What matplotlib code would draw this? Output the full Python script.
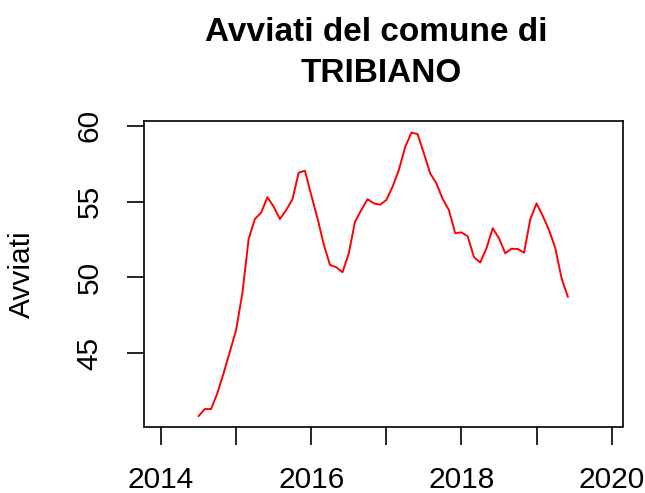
import numpy as np
import matplotlib
matplotlib.use("Agg")
import matplotlib.pyplot as plt

plt.rcParams['font.family'] = ['Liberation Sans', 'DejaVu Sans']

# monthly values, July 2014 .. June 2019
start_year = 2014.5
avviati = [40.86, 41.32, 41.32, 42.36, 43.68, 45.10, 46.53, 48.95, 52.53, 53.85,
           54.27, 55.28, 54.66, 53.85, 54.44, 55.15, 56.90, 57.03, 55.43, 53.90,
           52.18, 50.82, 50.67, 50.34, 51.59, 53.67, 54.44, 55.15, 54.88, 54.79,
           55.10, 55.98, 57.08, 58.58, 59.54, 59.45, 58.18, 56.86, 56.20, 55.17,
           54.44, 52.91, 52.97, 52.71, 51.34, 50.98, 51.92, 53.24, 52.58, 51.59,
           51.89, 51.87, 51.63, 53.83, 54.88, 54.05, 53.12, 51.92, 49.94, 48.73]
x_ticks = [2014, 2015, 2016, 2017, 2018, 2019, 2020]
x_labels = ['2014', '', '2016', '', '2018', '', '2020']
y_ticks = [45, 50, 55, 60]

t = start_year + np.arange(len(avviati)) / 12

fig = plt.figure(figsize=(6.45, 4.93), dpi=100)
W, H = 645, 493
ax = fig.add_axes([143.5 / W, 1 - 426.5 / H, (623 - 143.5) / W, (426.5 - 121) / H])

ax.plot(t, avviati, color='red', lw=1.4)
ax.set_xlim(2013.767, 2020.151)
ax.set_ylim(40.17, 60.31)

ax.set_xticks(x_ticks)
ax.set_xticklabels(x_labels)
ax.set_yticks(y_ticks)
ax.set_yticklabels([str(v) for v in y_ticks], rotation=90, va='center')

ax.tick_params(axis='both', direction='out', length=12.6, width=1.2,
               labelsize=21.5, color='black')
ax.tick_params(axis='x', pad=16)
ax.tick_params(axis='y', pad=16)
for s in ax.spines.values():
    s.set_linewidth(1.2)

fig.text(21.7 / W, 1 - 274 / H, 'Avviati', rotation=90, va='center', ha='center',
         fontsize=21.5)
fig.text(376 / W, 1 - 41 / H, 'Avviati del comune di', ha='center', va='baseline',
         fontsize=24, fontweight='bold')
fig.text(381 / W, 1 - 81.7 / H, 'TRIBIANO', ha='center', va='baseline',
         fontsize=24, fontweight='bold')

fig.savefig('out.png', dpi=100)
